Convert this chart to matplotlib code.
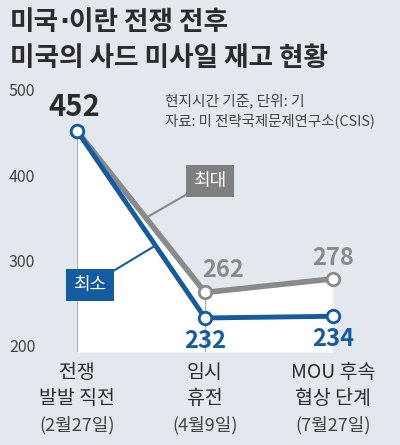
import matplotlib.pyplot as plt
import matplotlib.transforms as mtransforms
import numpy as np

plt.rcParams['font.family'] = ['Noto Sans CJK KR', 'DejaVu Sans']

# data
stages = ['전쟁\n발발 직전', '임시\n휴전', 'MOU 후속\n협상 단계']
dates = ['(2월27일)', '(4월9일)', '(7월27일)']
max_stock = [452, 262, 278]
min_stock = [452, 232, 234]
y_ticks = [200, 300, 400, 500]

BG = '#e3e7ee'
GRAY = '#8a8a8a'
BLUE = '#155b9f'
DARK = '#2b2b2b'

fig = plt.figure(figsize=(4, 4.45), dpi=100, facecolor=BG)
ax = fig.add_axes([77 / 400, 93 / 445, 256 / 400, 262 / 445])
ax.set_facecolor(BG)

x = np.arange(len(stages))
ymin = 192
ax.set_xlim(0, len(stages) - 1)
ax.set_ylim(ymin, 500)

# white area under the max line + guide lines
ax.fill_between(x, max_stock, ymin, color='white', lw=0, zorder=1)
ax.vlines(x, ymin, max_stock, color='#b4b4b4', lw=1, zorder=2)

ax.plot(x, max_stock, color=GRAY, lw=4, zorder=3, marker='o', ms=9,
        mfc='white', mec=GRAY, mew=2, clip_on=False)
ax.plot(x, min_stock, color=BLUE, lw=3.5, zorder=4, marker='o', ms=9,
        mfc='white', mec=BLUE, mew=2, clip_on=False)

for s in ax.spines.values():
    s.set_visible(False)
ax.set_yticks(y_ticks)
ax.set_yticklabels([str(v) for v in y_ticks], fontsize=11.5, color='#444444')
ax.set_xticks(x)
ax.set_xticklabels(stages, fontsize=14, color=DARK, linespacing=1.32, va='top')
ax.tick_params(axis='y', length=0, pad=30)
ax.tick_params(axis='x', length=0, pad=7)

# dates under the stage names, a bit lighter
trans = mtransforms.blended_transform_factory(ax.transData, fig.transFigure)
for xi, d in zip(x, dates):
    ax.text(xi, 20 / 445, d, transform=trans, ha='center', va='center',
            fontsize=13, color='#444444', fontweight='light')

# value labels
ax.annotate(str(max_stock[0]), (x[0], max_stock[0]), xytext=(-3, 24), textcoords='offset pixels',
            ha='center', va='center', fontsize=21, fontweight='heavy', color=DARK, annotation_clip=False)
ax.annotate(str(max_stock[1]), (x[1], max_stock[1]), xytext=(18, 22), textcoords='offset pixels',
            ha='center', va='center', fontsize=17, fontweight='heavy', color=GRAY, annotation_clip=False)
ax.annotate(str(max_stock[2]), (x[2], max_stock[2]), xytext=(0, 21), textcoords='offset pixels',
            ha='center', va='center', fontsize=17, fontweight='heavy', color=GRAY, annotation_clip=False)
for i in (1, 2):
    ax.annotate(str(min_stock[i]), (x[i], min_stock[i]), xytext=(0, -23), textcoords='offset pixels',
                ha='center', va='center', fontsize=17, fontweight='heavy', color=BLUE, annotation_clip=False)

# series labels with leader lines
ax.annotate('최대', xy=(0.56, 0.56 * max_stock[1] + 0.44 * max_stock[0] + 6), xytext=(210, 445 - 181),
            textcoords='figure pixels', ha='center', va='center', fontsize=13, color='white',
            bbox=dict(boxstyle='square,pad=0.4', fc='#7f7f7f', ec='none'),
            arrowprops=dict(arrowstyle='-', color=GRAY, lw=1.5, shrinkA=0, shrinkB=0), zorder=6)
ax.annotate('최소', xy=(0.6, 0.6 * min_stock[1] + 0.4 * min_stock[0] - 4), xytext=(90, 445 - 285),
            textcoords='figure pixels', ha='center', va='center', fontsize=13, color='white',
            bbox=dict(boxstyle='square,pad=0.4', fc=BLUE, ec='none'),
            arrowprops=dict(arrowstyle='-', color=BLUE, lw=1.5, shrinkA=0, shrinkB=0), zorder=6)

# title: size picked so the second line is ~318px wide like the original
renderer = fig.canvas.get_renderer()
title_kw = dict(fontsize=20, fontweight='heavy', color=DARK, va='center', ha='left')
t2 = fig.text(10 / 400, 1 - 59 / 445, '미국의 사드 미사일 재고 현황', **title_kw)
title_kw['fontsize'] = 20 * 318 / t2.get_window_extent(renderer).width
t2.set_fontsize(title_kw['fontsize'])

# first line split so the middle dot stays narrow
cursor = 10
for piece, fam in [('미국', None), ('·', 'DejaVu Sans'), ('이란 전쟁 전후', None)]:
    kw = dict(title_kw)
    if fam:
        kw['family'] = fam
    t = fig.text(cursor / 400, 1 - 23 / 445, piece, **kw)
    cursor += t.get_window_extent(renderer).width

fig.text(165 / 400, 1 - 101 / 445, '현지시간 기준, 단위: 기', fontsize=10.6, color='#444444',
         va='center', ha='left')
fig.text(165 / 400, 1 - 121 / 445, '자료: 미 전략국제문제연구소(CSIS)', fontsize=10.4, color='#444444',
         va='center', ha='left')

fig.savefig('out.png', dpi=100, facecolor=BG)
